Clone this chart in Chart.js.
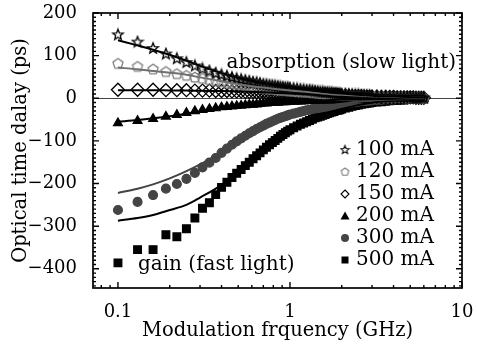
<!DOCTYPE html>
<html>
<head>
<meta charset="utf-8">
<script src="https://cdn.jsdelivr.net/npm/chart.js@4/dist/chart.umd.min.js"></script>
<style>
  html, body { margin: 0; padding: 0; background: #fff; }
  #wrap { width: 477px; height: 347px; }
</style>
</head>
<body>
<div id="wrap"><canvas id="delayChart" width="477" height="347"></canvas></div>
<script>
// modulation frequency (GHz)
const freqs = [
  0.10, 0.13, 0.16, 0.19, 0.22, 0.25, 0.28, 0.31, 0.34, 0.37, 0.40, 0.43, 0.46, 0.49, 0.52, 0.55,
  0.58, 0.61, 0.64, 0.67, 0.70, 0.73, 0.76, 0.79, 0.82, 0.85, 0.88, 0.91, 0.94, 0.97, 1.00,
  1.05, 1.10, 1.15, 1.20, 1.25, 1.30, 1.35, 1.40, 1.45, 1.50, 1.55, 1.60, 1.65, 1.70, 1.75,
  1.80, 1.85, 1.90, 1.95, 2.00,
  2.1, 2.2, 2.3, 2.4, 2.5, 2.6, 2.7, 2.8, 2.9, 3.0,
  3.2, 3.4, 3.6, 3.8, 4.0, 4.2, 4.4, 4.6, 4.8, 5.0, 5.2, 5.4, 5.6, 5.8, 6.0
];

// measured delay (ps)
const d100 = [
  150, 133, 118, 105, 94, 85, 77, 70, 65, 60, 56, 53, 50, 47, 45, 43, 41, 39, 38, 36, 34, 33, 32, 31, 30, 29, 28, 27, 26, 26, 25,
  24, 23, 22, 21, 20, 20, 19, 18, 17, 16, 16, 15, 15, 14, 14, 13, 13, 12, 12, 11,
  11, 10, 10, 9, 9, 8, 8, 7, 7, 6,
  6, 5, 5, 4, 4, 4, 3, 3, 3, 3, 2, 2, 2, 2, 2
];
const d120 = [
  82, 75, 69, 63, 58, 54, 50, 47, 44, 41, 39, 37, 35, 33, 32, 31, 29, 28, 27, 26, 25, 24, 23, 22, 22, 21, 20, 20, 19, 19, 18,
  17, 17, 16, 16, 15, 15, 14, 14, 13, 12, 12, 11, 11, 10, 10, 10, 9, 9, 9, 8,
  8, 8, 7, 7, 7, 6, 6, 6, 5, 5,
  5, 4, 4, 4, 3, 3, 3, 3, 2, 2, 2, 2, 2, 1, 1
];
const d150 = [
  20, 20, 20, 19, 19, 19, 18, 18, 18, 17, 17, 17, 16, 16, 16, 15, 15, 15, 14, 14, 14, 13, 13, 13, 13, 12, 12, 12, 12, 11, 11,
  11, 10, 10, 10, 10, 9, 9, 9, 9, 8, 8, 8, 8, 7, 7, 7, 7, 7, 6, 6,
  6, 6, 5, 5, 5, 5, 4, 4, 4, 4,
  4, 3, 3, 3, 3, 2, 2, 2, 2, 2, 2, 1, 1, 1, 1
];
const d200 = [
  -58, -53, -48, -43, -39, -34, -30, -27, -25, -23, -21, -20, -19, -18, -17, -16, -15, -15, -14, -13, -12, -12, -11, -11, -10, -10, -9, -9, -9, -8, -8,
  -8, -7, -7, -7, -6, -6, -6, -6, -5, -5, -5, -5, -4, -4, -4, -4, -4, -3, -3, -3,
  -3, -3, -3, -3, -2, -2, -2, -2, -2, -2,
  -2, -2, -2, -1, -1, -1, -1, -1, -1, -1, -1, -1, -1, -1, -1
];
const d300 = [
  -262, -243, -227, -212, -201, -189, -175, -162, -151, -140, -128, -118, -109, -101, -94, -88, -82, -77, -72, -68, -64, -60, -57, -54, -51, -48, -46, -44, -42, -40, -38,
  -36, -34, -32, -30, -28, -27, -25, -24, -23, -22, -21, -20, -19, -18, -17, -16, -15, -15, -14, -13,
  -12, -11, -10, -9, -8, -7, -6, -6, -5, -5,
  -4, -4, -3, -3, -3, -2, -2, -2, -2, -1, -1, -1, -1, -1, -1
];
const d500 = [
  -386, -355, -355, -320, -325, -306, -281, -258, -245, -226, -209, -197, -186, -176, -167, -158, -150, -142, -135, -128, -121, -115, -109, -104, -99, -94, -89, -85, -81, -77, -74,
  -69, -65, -61, -58, -55, -52, -49, -46, -44, -42, -40, -38, -36, -34, -32, -31, -29, -28, -27, -25,
  -23, -21, -19, -17, -16, -14, -13, -12, -11, -10,
  -9, -8, -7, -6, -5, -5, -4, -4, -3, -3, -3, -2, -2, -2, -2
];

// fitted curves
const fitFreqs = [0.1, 0.13, 0.16, 0.2, 0.25, 0.3, 0.4, 0.5, 0.7, 1, 1.5, 2, 3, 4, 6];
const fit100 = [136, 124, 114, 102, 88, 76, 59, 48, 35, 25, 16, 11, 6, 4, 2];
const fit120 = [72, 68, 64, 60, 55, 49, 40, 33, 25, 18, 12, 8, 5, 3, 1];
const fit150 = [19, 19, 19, 18.5, 18, 17.5, 17, 16, 14, 11, 8.5, 6, 4, 3, 1];
const fit200 = [-55, -51, -47, -42, -36, -31, -24, -19, -13, -8, -5, -3, -2, -1, -1];
const fit300 = [-222, -212, -202, -188, -171, -155, -127, -99, -65, -38, -21, -13, -5, -3, -1];
const fit500 = [-287, -281, -274, -262, -250, -233, -203, -170, -121, -74, -40, -25, -10, -5, -2];

const seriesLabels = ['100 mA', '120 mA', '150 mA', '200 mA', '300 mA', '500 mA'];
const yTicks = [-400, -300, -200, -100, 0, 100, 200];
const xTicks = [0.1, 1, 10];

const FONT = 'DejaVu Serif';

// hollow marker images for star and pentagon
function polyMarker(n, rOut, rIn, color, size, lw) {
  const c = document.createElement('canvas');
  c.width = size; c.height = size;
  const g = c.getContext('2d');
  g.strokeStyle = color;
  g.lineWidth = lw;
  g.beginPath();
  const steps = rIn ? n * 2 : n;
  for (let i = 0; i < steps; i++) {
    const r = (rIn && i % 2 === 1) ? rIn : rOut;
    const a = -Math.PI / 2 + i * 2 * Math.PI / steps;
    const px = size / 2 + r * Math.cos(a), py = size / 2 + 0.5 + r * Math.sin(a);
    if (i === 0) g.moveTo(px, py); else g.lineTo(px, py);
  }
  g.closePath();
  g.stroke();
  return c;
}
const starImg = polyMarker(5, 5.6, 2.4, '#000', 14, 1.3);
const pentImg = polyMarker(5, 5.3, 0, '#808080', 14, 1.3);
const starSmall = polyMarker(5, 4.4, 1.9, '#000', 11, 1.1);
const pentSmall = polyMarker(5, 4, 0, '#808080', 11, 1.1);

const pts = (xs, ys) => xs.map((x, i) => ({ x: x, y: ys[i] }));

function scatterSet(label, ys, style, fill, border, radius) {
  return {
    type: 'scatter', label: label, data: pts(freqs, ys),
    pointStyle: style, pointRadius: radius, pointHoverRadius: radius,
    backgroundColor: fill, borderColor: border, borderWidth: 1.3, order: 2
  };
}
function fitSet(ys, color) {
  return {
    type: 'line', label: '', data: pts(fitFreqs, ys),
    borderColor: color, borderWidth: 2, pointRadius: 0, fill: false,
    cubicInterpolationMode: 'monotone', order: 1
  };
}

const frame = {
  id: 'frame',
  beforeDatasetsDraw(chart) {
    const { ctx, chartArea: a, scales: { y } } = chart;
    ctx.save();
    ctx.strokeStyle = '#444';
    ctx.lineWidth = 1;
    const y0 = Math.round(y.getPixelForValue(0)) + 0.5;
    ctx.beginPath(); ctx.moveTo(a.left, y0); ctx.lineTo(a.right, y0); ctx.stroke();
    ctx.restore();
  },
  afterDraw(chart) {
    const { ctx, chartArea: a, scales: { x, y } } = chart;
    ctx.save();
    ctx.strokeStyle = '#000';
    ctx.lineWidth = 1.7;
    ctx.strokeRect(a.left, a.top, a.right - a.left, a.bottom - a.top);
    ctx.lineWidth = 1.4;
    ctx.beginPath();
    // log ticks on x
    for (let dec = 0.01; dec <= 10; dec *= 10) {
      for (let m = 1; m <= 9; m++) {
        const v = dec * m;
        if (v < x.min || v > x.max) continue;
        const px = x.getPixelForValue(v);
        const len = m === 1 ? 6 : 3;
        ctx.moveTo(px, a.bottom); ctx.lineTo(px, a.bottom - len);
        ctx.moveTo(px, a.top); ctx.lineTo(px, a.top + len);
      }
    }
    // linear ticks on y
    for (let v = -440; v <= 200; v += 10) {
      const py = y.getPixelForValue(v);
      const len = v % 100 === 0 ? 6 : 3;
      ctx.moveTo(a.left, py); ctx.lineTo(a.left + len, py);
      ctx.moveTo(a.right, py); ctx.lineTo(a.right - len, py);
    }
    ctx.stroke();

    // annotations
    ctx.fillStyle = '#000';
    ctx.font = '20px "' + FONT + '"';
    ctx.textBaseline = 'middle';
    ctx.textAlign = 'right';
    ctx.fillText('absorption (slow light)', a.right - 6, 63);
    ctx.textAlign = 'left';
    ctx.fillText('gain (fast light)', 138, 265);

    // legend
    const lx = 345, tx = 356;
    const ly = 150, step = 22;
    seriesLabels.forEach((lab, i) => {
      const cy = ly + i * step;
      ctx.fillStyle = '#000';
      ctx.fillText(lab, tx, cy);
      if (i === 0) ctx.drawImage(starSmall, lx - 5.5, cy - 6);
      if (i === 1) ctx.drawImage(pentSmall, lx - 5.5, cy - 6);
      if (i === 2) {
        ctx.beginPath();
        ctx.moveTo(lx, cy - 4); ctx.lineTo(lx + 4, cy); ctx.lineTo(lx, cy + 4); ctx.lineTo(lx - 4, cy); ctx.closePath();
        ctx.lineWidth = 1.1; ctx.strokeStyle = '#000'; ctx.stroke();
      }
      if (i === 3) {
        ctx.beginPath();
        ctx.moveTo(lx, cy - 4.5); ctx.lineTo(lx + 4.5, cy + 3.5); ctx.lineTo(lx - 4.5, cy + 3.5); ctx.closePath();
        ctx.fill();
      }
      if (i === 4) {
        ctx.fillStyle = '#444';
        ctx.beginPath(); ctx.arc(lx, cy, 4, 0, Math.PI * 2); ctx.fill();
      }
      if (i === 5) ctx.fillRect(lx - 3.5, cy - 3.5, 7, 7);
    });
    ctx.restore();
  }
};

new Chart(document.getElementById('delayChart'), {
  data: {
    datasets: [
      scatterSet(seriesLabels[0], d100, starImg, 'transparent', '#000', 5),
      scatterSet(seriesLabels[1], d120, pentImg, 'transparent', '#808080', 5),
      scatterSet(seriesLabels[2], d150, 'rectRot', 'transparent', '#000', 6.5),
      scatterSet(seriesLabels[3], d200, 'triangle', '#000', '#000', 5),
      scatterSet(seriesLabels[4], d300, 'circle', '#444', '#444', 4.4),
      scatterSet(seriesLabels[5], d500, 'rect', '#000', '#000', 5.4),
      fitSet(fit100, '#000'),
      fitSet(fit120, '#707070'),
      fitSet(fit150, '#000'),
      fitSet(fit200, '#000'),
      fitSet(fit300, '#444'),
      fitSet(fit500, '#000')
    ]
  },
  options: {
    responsive: false,
    animation: false,
    layout: { padding: { top: 13, right: 15, left: 9, bottom: 4 } },
    plugins: { legend: { display: false }, tooltip: { enabled: false } },
    scales: {
      x: {
        type: 'logarithmic', min: 0.0716, max: 10,
        grid: { display: false }, border: { display: false },
        afterBuildTicks: (s) => { s.ticks = xTicks.map(v => ({ value: v })); },
        afterFit: (s) => { s.height = 55; s.paddingLeft = 0; s.paddingRight = 0; },
        ticks: {
          color: '#000', font: { family: FONT, size: 18 }, padding: 6, maxRotation: 0,
          callback: (v) => String(v)
        },
        title: {
          display: true, text: 'Modulation frquency (GHz)', color: '#000',
          font: { family: FONT, size: 19.5 }, padding: { top: 0, bottom: 0 }
        }
      },
      y: {
        min: -445, max: 200,
        grid: { display: false }, border: { display: false },
        afterBuildTicks: (s) => { s.ticks = yTicks.map(v => ({ value: v })); },
        afterFit: (s) => { s.width = 84; s.paddingTop = 0; s.paddingBottom = 0; },
        ticks: {
          color: '#000', font: { family: FONT, size: 18 }, padding: 8,
          callback: (v) => String(v).replace('-', '\u2212')
        },
        title: {
          display: true, text: 'Optical time dalay (ps)', color: '#000',
          font: { family: FONT, size: 19.5 }, padding: { top: 0, bottom: 0 }
        }
      }
    }
  },
  plugins: [frame]
});
</script>
</body>
</html>
